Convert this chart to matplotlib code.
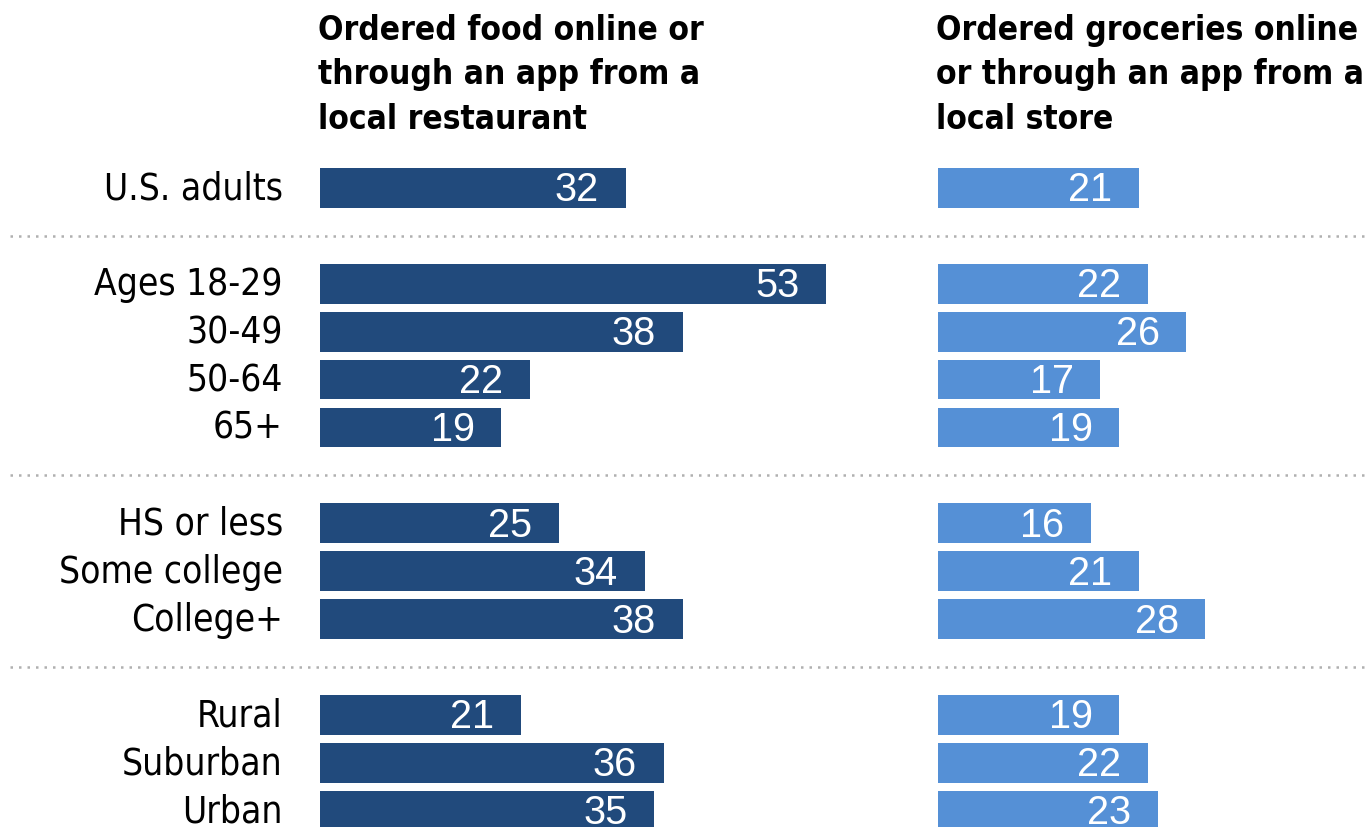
import matplotlib
matplotlib.use("Agg")
import matplotlib.pyplot as plt
from matplotlib.transforms import blended_transform_factory

categories = ["U.S. adults", "Ages 18-29", "30-49", "50-64", "65+",
              "HS or less", "Some college", "College+",
              "Rural", "Suburban", "Urban"]
positions = [0, 2, 3, 4, 5, 7, 8, 9, 11, 12, 13]
separators = [1, 6, 10]
food = [32, 53, 38, 22, 19, 25, 34, 38, 21, 36, 35]
groceries = [21, 22, 26, 17, 19, 16, 21, 28, 19, 22, 23]
titles = ["Ordered food online or\nthrough an app from a\nlocal restaurant",
          "Ordered groceries online\nor through an app from a\nlocal store"]

dark = "#214a7c"
light = "#5590d6"

W, H = 1370, 828
fig = plt.figure(figsize=(W / 100, H / 100), dpi=100)

px_per_unit = 9.55
pitch = 47.9
y0 = 189
ylim = ((H - y0) / pitch, -y0 / pitch)

def make_ax(left_px, width_px):
    ax = fig.add_axes([left_px / W, 0, width_px / W, 1])
    ax.set_xlim(0, width_px / px_per_unit)
    ax.set_ylim(*ylim)
    ax.axis("off")
    return ax

ax1 = make_ax(320, 600)
ax2 = make_ax(938, 432)

for ax, vals, col, title in [(ax1, food, dark, titles[0]), (ax2, groceries, light, titles[1])]:
    ax.barh(positions, vals, height=0.83, color=col)
    for p, v in zip(positions, vals):
        ax.text(v - 2.8, p + 0.03, str(v), ha="right", va="center", color="white",
                fontsize=28.5, family="Liberation Sans")
    ax.text(-0.2, -3.66, title, ha="left", va="top", fontsize=24, fontweight="bold",
            family="DejaVu Sans", fontstretch="condensed", linespacing=1.45, clip_on=False)

for p, c in zip(positions, categories):
    ax1.text(-3.9, p, c, ha="right", va="center", fontsize=26.6,
             family="DejaVu Sans", fontstretch="condensed")

tr = blended_transform_factory(fig.transFigure, ax1.transData)
for s in separators:
    ax1.plot([10 / W, 1.0], [s, s], transform=tr, color="#b0b0b0", lw=1.8,
             linestyle=(0, (1, 2.4)), clip_on=False)

fig.savefig("out.png", dpi=100)
